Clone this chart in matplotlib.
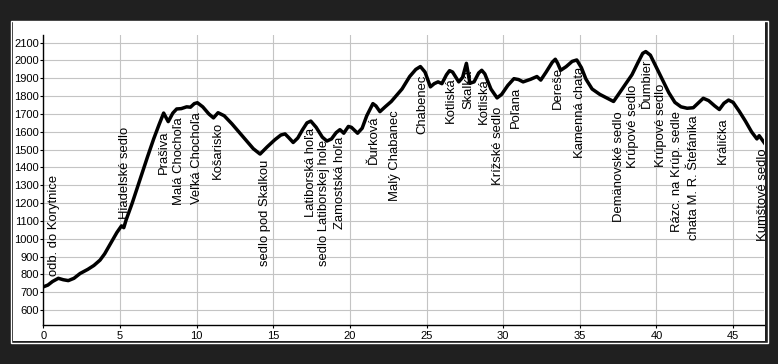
import matplotlib
matplotlib.use("Agg")
import matplotlib.pyplot as plt
from matplotlib.patches import Rectangle
from matplotlib.transforms import offset_copy

# elevation profile (km, m)
km = [0, 0.3, 0.6, 0.98, 1.3, 1.63, 2.0, 2.4, 2.9, 3.3, 3.7, 4.0, 4.4, 4.8,
      5.1, 5.25, 5.4, 5.8, 6.3, 6.8, 7.2, 7.55, 7.85, 8.15, 8.45, 8.7, 9.0,
      9.35, 9.6, 9.85, 10.05, 10.4, 10.8, 11.1, 11.4, 11.8, 12.3, 12.8,
      13.3, 13.7, 14.14, 14.6, 15.1, 15.5, 15.77, 16.0, 16.3, 16.6, 16.9,
      17.2, 17.45, 17.8, 18.2, 18.5, 18.8, 19.1, 19.35, 19.6, 19.9, 20.1,
      20.5, 20.8, 21.1, 21.5, 21.7, 21.96, 22.3, 22.7, 23.0, 23.4, 23.9,
      24.3, 24.6, 24.9, 25.25, 25.5, 25.75, 26.0, 26.3, 26.5, 26.7, 27.1,
      27.35, 27.6, 27.83, 28.1, 28.4, 28.6, 28.8, 29.2, 29.6, 29.9, 30.3,
      30.7, 31.0, 31.3, 31.8, 32.2, 32.45, 32.8, 33.2, 33.4, 33.55, 33.75,
      34.1, 34.5, 34.8, 35.1, 35.4, 35.8, 36.3, 36.8, 37.2, 37.6, 38.0,
      38.4, 38.8, 39.1, 39.3, 39.6, 40.0, 40.4, 40.8, 41.2, 41.6, 42.0,
      42.4, 42.8, 43.05, 43.4, 43.8, 44.1, 44.4, 44.7, 45.0, 45.4, 45.8,
      46.2, 46.55, 46.7, 46.85, 47.1]
elev = [730, 740, 760, 778, 770, 765, 778, 805, 828, 850, 880, 915, 975,
        1035, 1072, 1062, 1105, 1200, 1330, 1460, 1560, 1640, 1705, 1657,
        1705, 1728, 1730, 1740, 1738, 1758, 1763, 1740, 1700, 1678, 1707,
        1690, 1645, 1595, 1545, 1505, 1475, 1515, 1555, 1582, 1588, 1568,
        1540, 1565, 1610, 1650, 1660, 1625, 1570, 1548, 1560, 1595, 1612,
        1592, 1630, 1625, 1592, 1620, 1690, 1758, 1745, 1713, 1740, 1770,
        1800, 1840, 1910, 1950, 1966, 1935, 1852, 1870, 1880, 1870, 1920,
        1943, 1935, 1880, 1905, 1984, 1872, 1880, 1930, 1945, 1925, 1840,
        1790, 1810, 1860, 1898, 1893, 1880, 1895, 1910, 1890, 1935, 1990,
        2007, 1985, 1945, 1965, 1995, 2003, 1960, 1895, 1840, 1810, 1788,
        1770, 1820, 1870, 1920, 1990, 2040, 2050, 2030, 1960, 1890, 1820,
        1765, 1740, 1732, 1735, 1768, 1788, 1775, 1745, 1725, 1760, 1778,
        1765, 1715, 1660, 1600, 1560, 1578, 1560, 1530]

# waypoint labels: name, km, elevation where the text ends
label_names = ["odb. do Korytnice", "Hiadelské sedlo", "Prašiva",
               "Malá Chochoľa", "Veľká Chochoľa", "Košarisko",
               "sedlo pod Skalkou", "Latiborská hoľa",
               "sedlo Latiborskej hole", "Zamostská hoľa", "Ďurková",
               "Malý Chabanec", "Chabenec", "Kotliská", "Skalka", "Kotliská",
               "Krížské sedlo", "Poľana", "Dereše", "Kamenná chata",
               "Demänovské sedlo", "Krúpové sedlo", "Ďumbier",
               "Krúpové sedlo", "Rázc. na Krúp. sedle",
               "chata M. R. Štefánika", "Králička", "Kumštové sedlo"]
label_km = [0.55, 5.22, 7.72, 8.7, 9.9, 11.27, 14.35, 17.3, 18.16, 19.25,
            21.42, 22.83, 24.57, 26.47, 27.57, 28.6, 29.53, 30.66, 33.44,
            34.9, 37.4, 38.3, 39.25, 40.18, 41.2, 42.3, 44.19, 46.8]
label_y = [1358, 1625, 1610, 1681, 1713, 1657, 1442, 1620, 1554, 1573, 1694,
           1722, 1919, 1906, 1947, 1900, 1741, 1850, 1965, 1965, 1713, 1863,
           2012, 1872, 1718, 1694, 1681, 1507]

x_ticks = list(range(0, 50, 5))
y_ticks = list(range(600, 2200, 100))

plt.rcParams['font.family'] = ['Liberation Sans', 'DejaVu Sans']

fig = plt.figure(figsize=(7.78, 3.64), dpi=100, facecolor='#202020')
W, H = 778.0, 364.0

# white panel with double border, kept behind the axes
fig.patches.append(Rectangle((10.5 / W, 1 - 343.0 / H), 757.0 / W, 322.5 / H,
                             transform=fig.transFigure, facecolor='none',
                             edgecolor='white', linewidth=1.0, zorder=-10))
fig.patches.append(Rectangle((12.5 / W, 1 - 341.0 / H), 752.5 / W, 319.0 / H,
                             transform=fig.transFigure, facecolor='white',
                             edgecolor='none', zorder=-9))

ax = fig.add_axes([43.3 / W, 1 - 325.0 / H, (763.8 - 43.3) / W, 290.0 / H])
ax.set_facecolor('white')

ax.plot(km, elev, color='black', linewidth=2.5, solid_joinstyle='round',
        solid_capstyle='round', zorder=4)

# rotated text box includes the descent on its right, nudge glyphs onto the km
label_tr = offset_copy(ax.transData, fig=fig, x=1.5, y=0, units='points')
for name, x, y in zip(label_names, label_km, label_y):
    t = ax.text(x, y, name, rotation=90, ha='center', va='top', fontsize=9.4,
                color='black', zorder=3, transform=label_tr)
    t.set_clip_path(ax.patch)

ax.set_xlim(0, 47)
ax.set_ylim(516, 2143)
ax.set_xticks(x_ticks)
ax.set_yticks(y_ticks)
ax.grid(True, color='#c4c4c4', linewidth=0.8)
ax.set_axisbelow(True)

for side in ['top', 'right']:
    ax.spines[side].set_visible(False)
for side in ['left', 'bottom']:
    ax.spines[side].set_color('black')
    ax.spines[side].set_linewidth(1.0)

ax.tick_params(axis='both', length=2.5, width=0.8, colors='black',
               labelsize=8)
ax.tick_params(axis='y', pad=0.5)
ax.tick_params(axis='x', pad=1.5)

fig.savefig('out.png', dpi=100, facecolor=fig.get_facecolor())
